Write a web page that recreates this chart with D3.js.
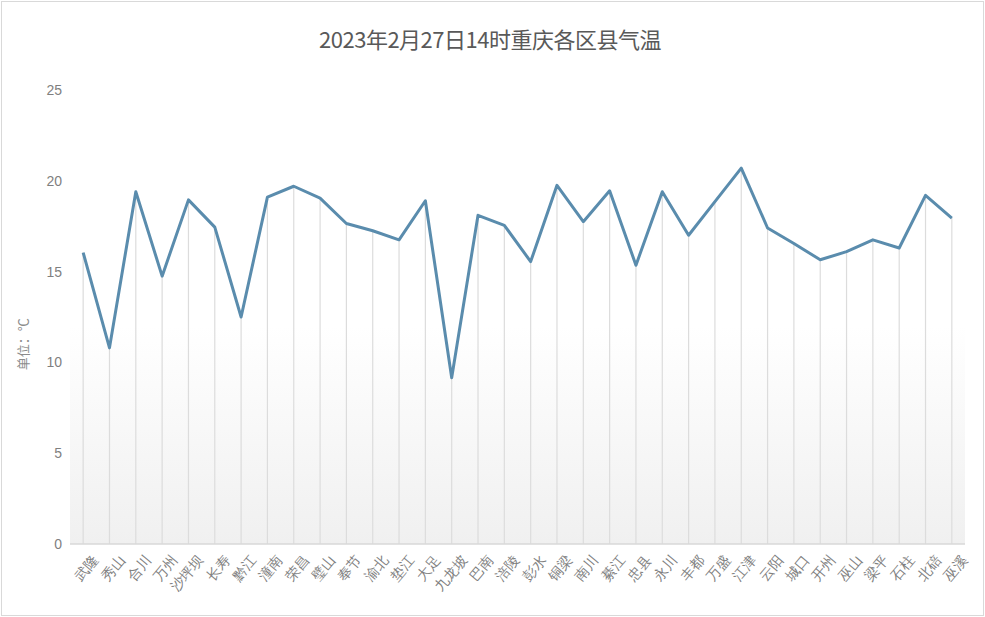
<!DOCTYPE html>
<html>
<head>
<meta charset="utf-8">
<script src="https://cdn.jsdelivr.net/npm/d3@7"></script>
<style>
  html, body { margin: 0; padding: 0; background: #fff; }
  svg { display: block; }
</style>
</head>
<body>
<div id="chart"></div>
<script>
// Data
const districts = ["武隆", "秀山", "合川", "万州", "沙坪坝", "长寿", "黔江", "潼南", "荣昌", "璧山",
  "奉节", "渝北", "垫江", "大足", "九龙坡", "巴南", "涪陵", "彭水", "铜梁", "南川",
  "綦江", "忠县", "永川", "丰都", "万盛", "江津", "云阳", "城口", "开州", "巫山",
  "梁平", "石柱", "北碚", "巫溪"];
const temps = [16.05, 10.8, 19.4, 14.75, 18.95, 17.45, 12.5, 19.1, 19.7, 19.05,
  17.65, 17.25, 16.75, 18.9, 9.15, 18.1, 17.55, 15.55, 19.75, 17.75,
  19.45, 15.35, 19.4, 17.0, 18.85, 20.7, 17.4, 16.55, 15.65, 16.1,
  16.75, 16.3, 19.2, 17.95];
const yTicks = [0, 5, 10, 15, 20, 25];
const title = "2023年2月27日14时重庆各区县气温";
const yLabel = "单位：℃";

// Layout
const width = 985;
const height = 617;
const marginLeft = 70;
const marginRight = 20;
const marginTop = 90;
const plotBottom = 544;

const x = d3.scalePoint()
  .domain(districts)
  .range([marginLeft, width - marginRight])
  .padding(0.5);
const y = d3.scaleLinear([0, 25], [plotBottom, marginTop]);

const svg = d3.select("#chart").append("svg")
  .attr("width", width)
  .attr("height", height)
  .style("font-family", "'Noto Sans CJK SC', 'Noto Sans', sans-serif");

// faint frame
svg.append("rect")
  .attr("x", 1.5).attr("y", 1.5)
  .attr("width", width - 3).attr("height", height - 3)
  .attr("fill", "none")
  .attr("stroke", "#d9d9d9");

// soft gradient in the plot area
const defs = svg.append("defs");
const grad = defs.append("linearGradient")
  .attr("id", "bg").attr("x1", 0).attr("y1", 0).attr("x2", 0).attr("y2", 1);
grad.append("stop").attr("offset", "0%").attr("stop-color", "#ffffff");
grad.append("stop").attr("offset", "100%").attr("stop-color", "#f0f0f0");

const pts = districts.map((d, i) => [d, temps[i]]);

svg.append("rect")
  .attr("x", marginLeft)
  .attr("y", y(12))
  .attr("width", width - marginRight - marginLeft)
  .attr("height", plotBottom - y(12))
  .attr("fill", "url(#bg)");

// drop lines
svg.append("g")
  .selectAll("line")
  .data(pts)
  .join("line")
  .attr("x1", d => x(d[0]))
  .attr("x2", d => x(d[0]))
  .attr("y1", d => y(d[1]))
  .attr("y2", plotBottom)
  .attr("stroke", "#dcdcdc")
  .attr("stroke-width", 1.2);

// x axis baseline
svg.append("line")
  .attr("x1", marginLeft)
  .attr("x2", width - marginRight)
  .attr("y1", plotBottom)
  .attr("y2", plotBottom)
  .attr("stroke", "#d9d9d9")
  .attr("stroke-width", 1.5);

// y axis
const yAxis = svg.append("g")
  .attr("transform", `translate(${marginLeft - 8},0)`)
  .call(d3.axisLeft(y).tickValues(yTicks).tickSize(0).tickPadding(0));
yAxis.select(".domain").remove();
yAxis.selectAll("text")
  .attr("fill", "#7f7f7f")
  .style("font-size", "14px");

// x axis labels
const xAxis = svg.append("g")
  .attr("transform", `translate(0,${plotBottom + 10})`)
  .call(d3.axisBottom(x).tickSize(0).tickPadding(0));
xAxis.select(".domain").remove();
xAxis.selectAll("text")
  .attr("fill", "#808080")
  .style("font-size", "14px")
  .attr("text-anchor", "end")
  .attr("dy", "0.7em")
  .attr("transform", "translate(8,0) rotate(-50)");

// line
svg.append("path")
  .datum(pts)
  .attr("fill", "none")
  .attr("stroke", "#5a8cad")
  .attr("stroke-width", 3)
  .attr("stroke-linejoin", "round")
  .attr("d", d3.line().x(d => x(d[0])).y(d => y(d[1])));

// title
svg.append("text")
  .attr("x", 490)
  .attr("y", 48)
  .attr("text-anchor", "middle")
  .attr("fill", "#595959")
  .style("font-size", "22px")
  .style("letter-spacing", "-0.5px")
  .text(title);

// y label
svg.append("text")
  .attr("transform", `translate(28,${y(11)}) rotate(-90)`)
  .attr("text-anchor", "middle")
  .attr("fill", "#8c8c8c")
  .style("font-size", "13px")
  .text(yLabel);
</script>
</body>
</html>
